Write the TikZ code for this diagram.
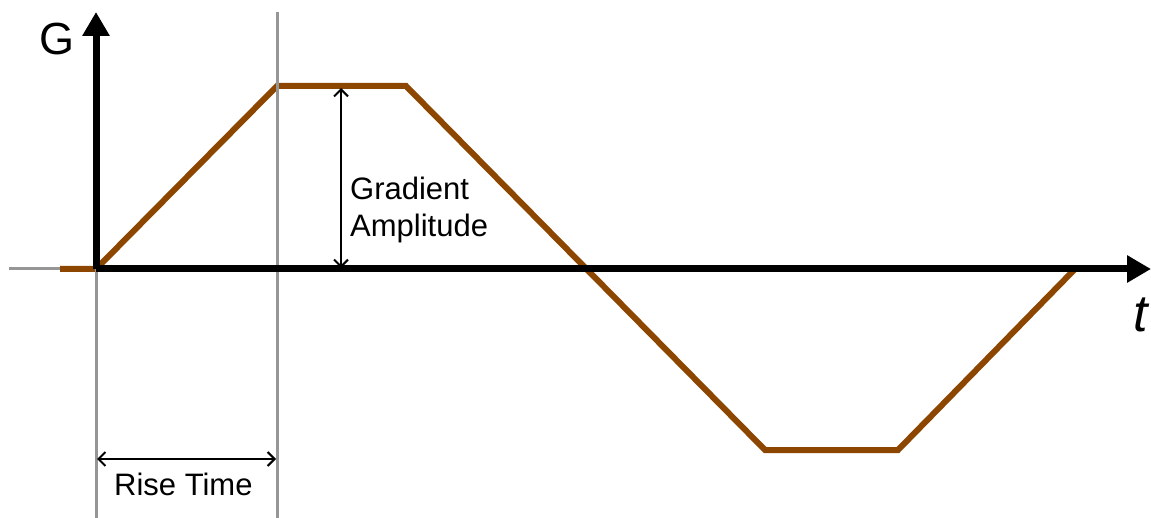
\documentclass[tikz,border=0pt]{standalone}
\usepackage{fontspec}
\setmainfont{Liberation Sans}
\usetikzlibrary{arrows.meta}
\definecolor{wave}{RGB}{140,70,0}
\definecolor{guide}{RGB}{150,150,150}
\begin{document}
\begin{tikzpicture}[x=1pt,y=-1pt,
  axisline/.style={line width=7pt,-{Triangle[length=24pt,width=26pt]}},
  guideline/.style={guide,line width=3pt},
  waveline/.style={wave,line width=6pt,line join=miter},
  dimline/.style={line width=2pt,{Straight Barb[length=7pt,width=14pt]}-{Straight Barb[length=7pt,width=14pt]}},
  lbl/.style={font=\fontsize{31}{36}\selectfont,inner sep=0pt}
]
\useasboundingbox (0,0) rectangle (1151,518);
% key points
\coordinate (o) at (96,269);
\coordinate (ytip) at (96,12);
\coordinate (xtip) at (1151,269);
\coordinate (w0) at (60,269);
\coordinate (w1) at (277,86);
\coordinate (w2) at (406,86);
\coordinate (w3) at (765,450);
\coordinate (w4) at (898,450);
\coordinate (w5) at (1075,269);
\coordinate (gl) at (9,269);
\coordinate (g1top) at (277,12);
\coordinate (g1bot) at (277,518);
\coordinate (g0bot) at (96,518);
\coordinate (aTop) at (341,88);
\coordinate (aBot) at (341,268);
\coordinate (rL) at (97,459);
\coordinate (rR) at (276,459);
% waveform
\draw[waveline] (w0) -- (o) -- (w1) -- (w2) -- (w3) -- (w4) -- (w5);
% guide lines
\draw[guideline] (gl) -- (w0);
\draw[guideline] (o) -- (g0bot);
\draw[guideline] (g1top) -- (g1bot);
% axes
\draw[axisline] (o) -- (ytip);
\draw[axisline] (o) -- (xtip);
% dimension arrows
\draw[dimline] (aTop) -- (aBot);
\draw[dimline] (rL) -- (rR);
% labels
\node[lbl,anchor=base west] (grad) at (350,200) {Gradient};
\node[lbl,anchor=base west] (ampl) at (350,237) {Amplitude};
\node[lbl,anchor=base west] (rise) at (114,495) {Rise Time};
\node[font=\fontsize{45}{50}\selectfont,inner sep=0pt,anchor=base west] (G) at (39,55) {G};
\node[font=\fontsize{52}{56}\selectfont\itshape,inner sep=0pt,anchor=base west] (t) at (1133,332) {t};
\end{tikzpicture}
\end{document}
